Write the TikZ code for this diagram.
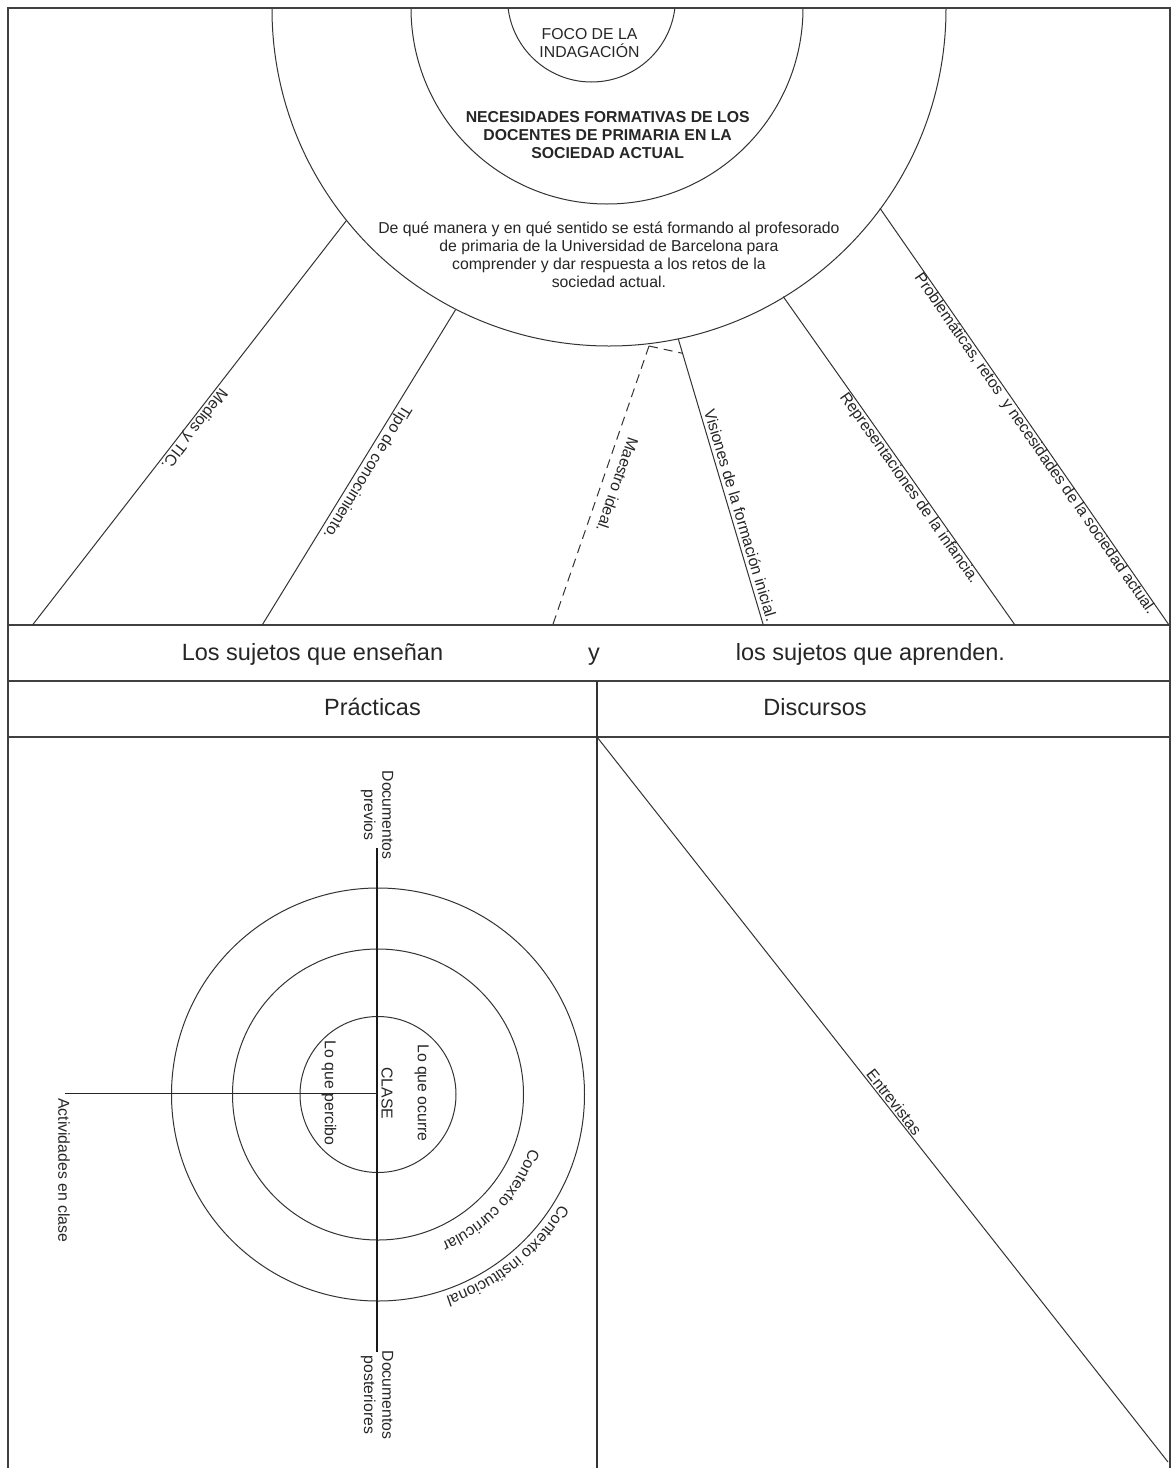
\documentclass[tikz,border=0pt]{standalone}
\usepackage{fontspec}
\setmainfont{Liberation Sans}
\usetikzlibrary{calc,decorations.text}
\newcommand\fsA{\fontsize{15.8}{18.1}\selectfont}
\newcommand\fsB{\fontsize{23.5}{27}\selectfont}
\begin{document}
\begin{tikzpicture}[x=1pt,y=1pt,
  ln/.style={draw=black!80, line width=1pt},
  frm/.style={draw=black!75, line width=2pt},
  lbl/.style={font=\fsA, text=black!85, inner sep=0pt},
  rlbl/.style={lbl, anchor=base},
  big/.style={font=\fsB, text=black!85, inner sep=0pt, anchor=base},
  curv/.style={decorate, decoration={text along path, text color=black!85, text format delimiters={|}{|}, text={#1}}}
]
\useasboundingbox (0,0) rectangle (1171,-1468);
\fill[white] (0,0) rectangle (1171,-1468);

% ---------- top circles ----------
\begin{scope}
\clip (0,-8) rectangle (1171,-700);
\draw[ln] (609,-9) circle[radius=337];
\draw[ln] (607,-8) circle[radius=196];
\draw[ln] (591.5,2) circle[radius=84];
\end{scope}

\node[lbl, align=center, anchor=north] (foco) at (589.5,-28.4) {FOCO DE LA\\INDAGACIÓN};
\node[lbl, align=center, anchor=north, font=\fsA\bfseries] (nec) at (607.7,-111.1)
  {NECESIDADES FORMATIVAS DE LOS\\DOCENTES DE PRIMARIA EN LA\\SOCIEDAD ACTUAL};
\node[lbl, align=center, anchor=north] (dq) at (608.9,-221.7)
  {De qué manera y en qué sentido se está formando al profesorado\\de primaria de la Universidad de Barcelona para\\comprender y dar respuesta a los retos de la\\sociedad actual.};

% ---------- frame ----------
\coordinate (ftl) at (8,-8);
\coordinate (ftr) at (1171,-8);
\coordinate (fbl) at (8,-1468);
\coordinate (rtop) at (1170,-8);
\coordinate (rbot) at (1170,-1468);
\draw[frm] (ftr) -- (ftl) -- (fbl);
\draw[frm, line width=1.2pt] (rtop) -- (rbot);
\coordinate (b1l) at (8,-625);   \coordinate (b1r) at (1171,-625);
\coordinate (b2l) at (8,-681);   \coordinate (b2r) at (1171,-681);
\coordinate (b3l) at (8,-737);   \coordinate (b3r) at (1171,-737);
\draw[frm] (b1l) -- (b1r);
\draw[frm] (b2l) -- (b2r);
\draw[frm] (b3l) -- (b3r);
\coordinate (dvt) at (597,-681); \coordinate (dvb) at (597,-1468);
\draw[ln, line width=1.2pt] (dvt) -- (dvb);

% ---------- rays ----------
\coordinate (m1a) at (346.3,-220.7); \coordinate (m1b) at (32.5,-625);
\coordinate (m2a) at (455.4,-310);   \coordinate (m2b) at (262.2,-625);
\coordinate (m3a) at (649,-346);     \coordinate (m3b) at (552.7,-625);
\coordinate (m4a) at (678.3,-339);   \coordinate (m4b) at (763.3,-625);
\coordinate (m5a) at (783.3,-296.7); \coordinate (m5b) at (1015,-625);
\coordinate (m6a) at (880,-208.3);   \coordinate (m6b) at (1169,-625);
\coordinate (m3c) at ($(m4a)!0.05!(m4b)$);

\draw[ln] (m1a) -- (m1b);
\draw[ln] (m2a) -- (m2b);
\draw[ln, dashed, dash pattern=on 9pt off 6pt] (m3a) -- (m3b);
\draw[ln, dashed, dash pattern=on 9pt off 6pt] (m3a) -- (m3c);
\draw[ln] (m4a) -- (m4b);
\draw[ln] (m5a) -- (m5b);
\draw[ln] (m6a) -- (m6b);

\node[rlbl, rotate=232.18] (t1) at ($(m1a)!0.504!(m1b)!3pt!90:(m1b)$) {Medios y TIC.};
\node[rlbl, rotate=238.48] (t2) at ($(m2a)!0.499!(m2b)!5pt!90:(m2b)$) {Tipo de conocimiento.};
\node[rlbl, rotate=250.96] (t3) at ($(m3a)!0.48!(m3b)!10pt!90:(m3b)$) {Maestro ideal.};
\node[rlbl, rotate=286.61] (t4) at ($(m4a)!0.626!(m4b)!4pt!90:(m4b)$) {Visiones de la formación inicial.};
\node[rlbl, rotate=-54.78] (t5) at ($(m5a)!0.57!(m5b)!-12pt!90:(m5b)$) {Representaciones de la infancia.};
\node[rlbl, rotate=-55.26] (t6) at ($(m6a)!0.556!(m6b)!-11.5pt!90:(m6b)$) {Problemáticas, retos\ \ y necesidades de la sociedad actual.};

% ---------- bands ----------
\node[big] (s1) at (312.5,-660.7) {Los sujetos que enseñan};
\node[big] (s2) at (594,-660.7) {y};
\node[big] (s3) at (870.5,-660.7) {los sujetos que aprenden.};
\node[big] (pr) at (372.5,-715) {Prácticas};
\node[big] (di) at (815,-715) {Discursos};

% ---------- discursos diagonal ----------
\coordinate (dg1) at (597,-737);
\coordinate (dg2) at (1168,-1462);
\draw[ln] (dg1) -- (dg2);
\node[rlbl, rotate=-51.78] (ent) at ($(dg1)!0.51!(dg2)!2pt!90:(dg2)$) {Entrevistas};

% ---------- practicas circles ----------
\coordinate (cc) at (378,-1094.5);
\draw[ln] (cc) circle[radius=78];
\draw[ln] (cc) circle[radius=145.5];
\draw[ln] (cc) circle[radius=206.5];
\coordinate (vt) at (377,-848);
\coordinate (vb) at (377,-1352);
\coordinate (hl) at (65,-1093.5);
\coordinate (hr) at (377,-1093.5);
\draw[draw=black!90, line width=2.3pt] (vt) -- (vb);
\draw[draw=black!85, line width=1.3pt] (hl) -- (hr);

\node[lbl, rotate=-90, align=center] (dprev) at (377,-815) {Documentos\\previos};
\node[lbl, rotate=-90, align=center] (dpost) at (377,-1395) {Documentos\\posteriores};
\node[lbl, rotate=-90] (clase) at (387,-1093.3) {CLASE};
\node[lbl, rotate=-90] (perc) at (329,-1093) {Lo que percibo};
\node[lbl, rotate=-90] (ocur) at (421.7,-1093) {Lo que ocurre};
\node[lbl, rotate=-90, anchor=west] (act) at (64,-1098) {Actividades en clase};

\path[curv={|\fsA|Contexto curricular}] ($(cc)+(-19.5:161)$) arc[start angle=-19.5, end angle=-85, radius=161];
\path[curv={|\fsA|Contexto institucional}] ($(cc)+(-31:213)$) arc[start angle=-31, end angle=-95, radius=213];
\end{tikzpicture}
\end{document}
